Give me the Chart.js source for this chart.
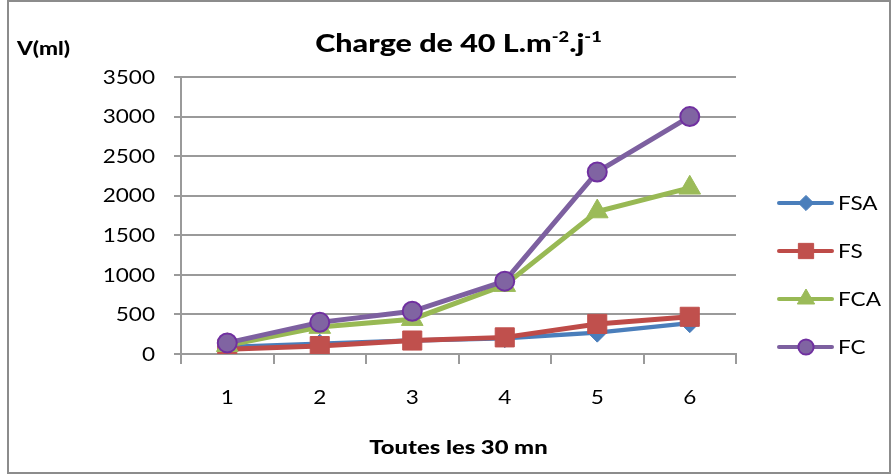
<!DOCTYPE html>
<html>
<head>
<meta charset="utf-8">
<title>Charge de 40 L.m-2.j-1</title>
<script src="https://cdn.jsdelivr.net/npm/chart.js@4/dist/chart.umd.min.js"></script>
<style>
  html, body { margin: 0; padding: 0; background: #ffffff; }
  #wrap { position: relative; width: 893px; height: 475px; }
</style>
</head>
<body>
<div id="wrap"><canvas id="chart"></canvas></div>
<script>
// Sampling times (every 30 minutes)
const categories = ['1', '2', '3', '4', '5', '6'];

// Cumulated volume V (ml) for each filter
const fsaValues = [90, 130, 170, 200, 270, 390];
const fsValues  = [60, 100, 170, 210, 380, 470];
const fcaValues = [110, 340, 440, 870, 1800, 2100];
const fcValues  = [140, 400, 540, 920, 2300, 3000];

const seriesNames = ['FSA', 'FS', 'FCA', 'FC'];
const yTickValues = [0, 500, 1000, 1500, 2000, 2500, 3000, 3500];

const titleParts = [
  { text: 'Charge de 40 L.m', sup: false },
  { text: '-2', sup: true },
  { text: '.j', sup: false },
  { text: '-1', sup: true }
];
const yAxisTitle = 'V(ml)';
const xAxisTitle = 'Toutes les 30 mn';

// Text is drawn slightly widened to give the Calibri-like proportions
const SX = 1.22;
const FONT = 'Lato, "Open Sans", sans-serif';
const GRID = '#9a9a9a';

function wideText(ctx, text, x, y, font, align) {
  ctx.save();
  ctx.font = font;
  ctx.fillStyle = '#000000';
  ctx.textBaseline = 'alphabetic';
  ctx.textAlign = 'left';
  const w = ctx.measureText(text).width * SX;
  const left = align === 'center' ? x - w / 2 : (align === 'right' ? x - w : x);
  ctx.translate(left, y);
  ctx.scale(SX, 1);
  ctx.fillText(text, 0, 0);
  ctx.restore();
  return w;
}

function marker(ctx, style, radius, x, y, fill, stroke, bw) {
  ctx.save();
  ctx.fillStyle = fill;
  ctx.strokeStyle = stroke;
  ctx.lineWidth = bw;
  Chart.helpers.drawPoint(ctx, { pointStyle: style, radius: radius, rotation: 0, borderWidth: bw }, x, y);
  ctx.restore();
}

// Titles, tick labels and the side legend
const textPlugin = {
  id: 'chartTexts',
  afterDraw(chart) {
    const ctx = chart.ctx;
    const area = chart.chartArea;

    // main title with superscripts
    const big = '900 25px ' + FONT;
    const small = '900 15px ' + FONT;
    let total = 0;
    ctx.save();
    titleParts.forEach(p => { ctx.font = p.sup ? small : big; total += ctx.measureText(p.text).width * SX; });
    ctx.restore();
    let tx = (area.left + area.right) / 2 - total / 2;
    titleParts.forEach(p => {
      tx += wideText(ctx, p.text, tx, p.sup ? 42 : 52, p.sup ? small : big, 'left');
    });

    // y axis title
    wideText(ctx, yAxisTitle, 17, 55, '900 18.5px ' + FONT, 'left');

    // y tick labels
    const ys = chart.scales.y;
    ys.ticks.forEach(t => {
      wideText(ctx, String(t.value), 155, ys.getPixelForValue(t.value) + 6.7, '18.5px ' + FONT, 'right');
    });

    // x tick labels
    const xs = chart.scales.x;
    categories.forEach((c, i) => {
      wideText(ctx, c, xs.getPixelForValue(i), 404, '18.5px ' + FONT, 'center');
    });

    // x axis title
    wideText(ctx, xAxisTitle, (area.left + area.right) / 2, 454, '900 19.5px ' + FONT, 'center');

    // legend: line with its marker, then the series name
    chart.data.datasets.forEach((ds, i) => {
      const y = 203 + i * 48;
      ctx.save();
      ctx.strokeStyle = ds.borderColor;
      ctx.lineWidth = 4;
      ctx.lineCap = 'round';
      ctx.beginPath();
      ctx.moveTo(779, y);
      ctx.lineTo(832, y);
      ctx.stroke();
      ctx.restore();
      marker(ctx, ds.pointStyle, ds.pointRadius * 0.8, 806, y, ds.pointBackgroundColor, ds.pointBorderColor, ds.pointBorderWidth);
      wideText(ctx, ds.label, 838, y + 6.7, '18.5px ' + FONT, 'left');
    });
  }
};

// Outer frame of the chart
const framePlugin = {
  id: 'frame',
  beforeDraw(chart) {
    const ctx = chart.ctx;
    ctx.save();
    ctx.fillStyle = '#ffffff';
    ctx.fillRect(0, 0, chart.width, chart.height);
    ctx.strokeStyle = '#8c8c8c';
    ctx.lineWidth = 2;
    ctx.strokeRect(8, 1, 882, 472);
    ctx.restore();
  }
};

const datasets = [
  {
    label: seriesNames[0], data: fsaValues, order: 4,
    borderColor: '#4A7EBB', borderWidth: 4.5,
    pointStyle: 'rectRot', pointRadius: 9.5,
    pointBackgroundColor: '#4A7EBB', pointBorderColor: '#4A7EBB', pointBorderWidth: 1
  },
  {
    label: seriesNames[1], data: fsValues, order: 3,
    borderColor: '#BE4B48', borderWidth: 5,
    pointStyle: 'rect', pointRadius: 13.5,
    pointBackgroundColor: '#C0504D', pointBorderColor: '#C0504D', pointBorderWidth: 1
  },
  {
    label: seriesNames[2], data: fcaValues, order: 2,
    borderColor: '#98B954', borderWidth: 5,
    pointStyle: 'triangle', pointRadius: 12.5,
    pointBackgroundColor: '#9BBB59', pointBorderColor: '#9BBB59', pointBorderWidth: 1
  },
  {
    label: seriesNames[3], data: fcValues, order: 1,
    borderColor: '#7D60A0', borderWidth: 5,
    pointStyle: 'circle', pointRadius: 9.5,
    pointBackgroundColor: '#8064A2', pointBorderColor: '#7030A0', pointBorderWidth: 2
  }
];

new Chart(document.getElementById('chart'), {
  type: 'line',
  data: { labels: categories, datasets: datasets },
  options: {
    responsive: true,
    maintainAspectRatio: false,
    animation: false,
    events: [],
    layout: { padding: { top: 77, right: 157, bottom: 0, left: 0 } },
    elements: { line: { tension: 0 } },
    plugins: { legend: { display: false }, title: { display: false }, tooltip: { enabled: false } },
    scales: {
      x: {
        type: 'category',
        offset: true,
        ticks: { display: false },
        grid: { drawOnChartArea: false, offset: true, drawTicks: true, tickLength: 10, color: GRID, lineWidth: 2 },
        border: { display: true, color: GRID, width: 2 },
        afterFit(scale) { scale.height = 121; }
      },
      y: {
        min: 0,
        max: 3500,
        afterBuildTicks(scale) { scale.ticks = yTickValues.map(v => ({ value: v })); },
        ticks: { display: false },
        grid: { color: GRID, lineWidth: 2, drawTicks: true, tickLength: 7 },
        border: { display: true, color: GRID, width: 2 },
        afterFit(scale) { scale.width = 181; }
      }
    }
  },
  plugins: [framePlugin, textPlugin]
});
</script>
</body>
</html>
